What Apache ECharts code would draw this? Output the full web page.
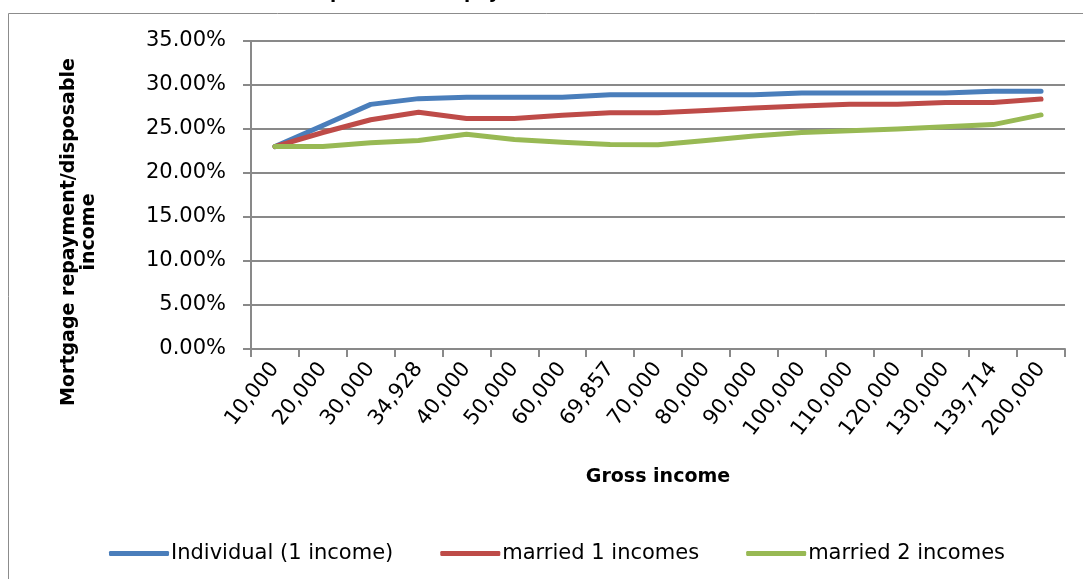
<!DOCTYPE html>
<html>
<head>
<meta charset="utf-8">
<script src="https://cdn.jsdelivr.net/npm/echarts@6/dist/echarts.min.js"></script>
<style>
  html, body { margin: 0; padding: 0; background: #fff; }
  #chart { width: 1083px; height: 579px; }
</style>
</head>
<body>
<div id="chart"></div>
<script>
  // gross income categories (x axis)
  var categories = ['10,000', '20,000', '30,000', '34,928', '40,000', '50,000', '60,000', '69,857', '70,000',
    '80,000', '90,000', '100,000', '110,000', '120,000', '130,000', '139,714', '200,000']

  // mortgage repayment / disposable income, in %
  var individual = [23.0, 25.4, 27.8, 28.45, 28.6, 28.6, 28.6, 28.9, 28.9, 28.9, 28.9, 29.1, 29.1, 29.1, 29.1, 29.3, 29.3]
  var married1 = [23.0, 24.6, 26.05, 26.9, 26.2, 26.2, 26.55, 26.85, 26.85, 27.1, 27.4, 27.6, 27.8, 27.8, 28.0, 28.0, 28.4]
  var married2 = [23.0, 23.0, 23.45, 23.7, 24.4, 23.8, 23.5, 23.25, 23.2, 23.7, 24.2, 24.6, 24.8, 25.0, 25.25, 25.5, 26.6]

  var seriesNames = ['Individual (1 income)', 'married 1 incomes', 'married 2 incomes']
  var colors = ['#4a7ebb', '#be4b48', '#98b954']

  var font = 'DejaVu Sans'
  var gridColor = '#898989'

  var chart = echarts.init(document.getElementById('chart'))

  function lineSeries(name, data) {
    return {
      name: name,
      type: 'line',
      data: data,
      showSymbol: false,
      symbol: 'none',
      lineStyle: {width: 5, cap: 'round', join: 'round'},
      emphasis: {disabled: true}
    }
  }

  chart.setOption({
    animation: false,
    color: colors,
    textStyle: {fontFamily: font, color: '#000'},
    grid: {left: 251, right: 18, top: 41, bottom: 230},
    graphic: [
      {
        // chart frame (right/bottom edges fall outside the picture)
        type: 'rect',
        silent: true,
        shape: {x: 8.5, y: 13.5, width: 1200, height: 700},
        style: {fill: null, stroke: '#8c8c8c', lineWidth: 1}
      },
      {
        // title, almost entirely cut off at top of picture
        type: 'text',
        x: 216,
        y: -7,
        silent: true,
        style: {
          text: 'Relationship between repayments to net income across incomes (2011 rates)',
          font: 'bold 18px "DejaVu Sans"',
          fill: '#000',
          textVerticalAlign: 'middle'
        }
      },
      {
        type: 'text',
        x: 79,
        y: 232,
        rotation: Math.PI / 2,
        silent: true,
        style: {
          text: 'Mortgage repayment/disposable\nincome',
          font: 'bold 19px "DejaVu Sans"',
          fill: '#000',
          textAlign: 'center',
          textVerticalAlign: 'middle',
          lineHeight: 20
        }
      },
      {
        type: 'text',
        x: 658,
        y: 477,
        silent: true,
        style: {
          text: 'Gross income',
          font: 'bold 19px "DejaVu Sans"',
          fill: '#000',
          textAlign: 'center',
          textVerticalAlign: 'middle'
        }
      }
    ],
    legend: {
      left: 104,
      top: 538,
      icon: 'roundRect',
      itemWidth: 60,
      itemHeight: 5,
      itemGap: 47,
      data: seriesNames,
      textStyle: {fontFamily: font, fontSize: 21, color: '#000', padding: [0, 0, 0, -3]}
    },
    xAxis: {
      type: 'category',
      data: categories,
      boundaryGap: true,
      axisLine: {lineStyle: {color: gridColor, width: 2}},
      axisTick: {show: true, length: 8, alignWithLabel: false, lineStyle: {color: gridColor, width: 2}},
      axisLabel: {rotate: 52, interval: 0, fontSize: 21, fontFamily: font, color: '#000', margin: 16}
    },
    yAxis: {
      type: 'value',
      min: 0,
      max: 35,
      interval: 5,
      axisLine: {show: true, lineStyle: {color: gridColor, width: 2}},
      axisTick: {show: true, length: 8, lineStyle: {color: gridColor, width: 2}},
      splitLine: {show: true, lineStyle: {color: gridColor, width: 2}},
      axisLabel: {
        fontSize: 21,
        fontFamily: font,
        color: '#000',
        margin: 25,
        formatter: function (v) {
          return v.toFixed(2) + '%'
        }
      }
    },
    series: [
      lineSeries(seriesNames[0], individual),
      lineSeries(seriesNames[1], married1),
      lineSeries(seriesNames[2], married2)
    ]
  })
</script>
</body>
</html>
